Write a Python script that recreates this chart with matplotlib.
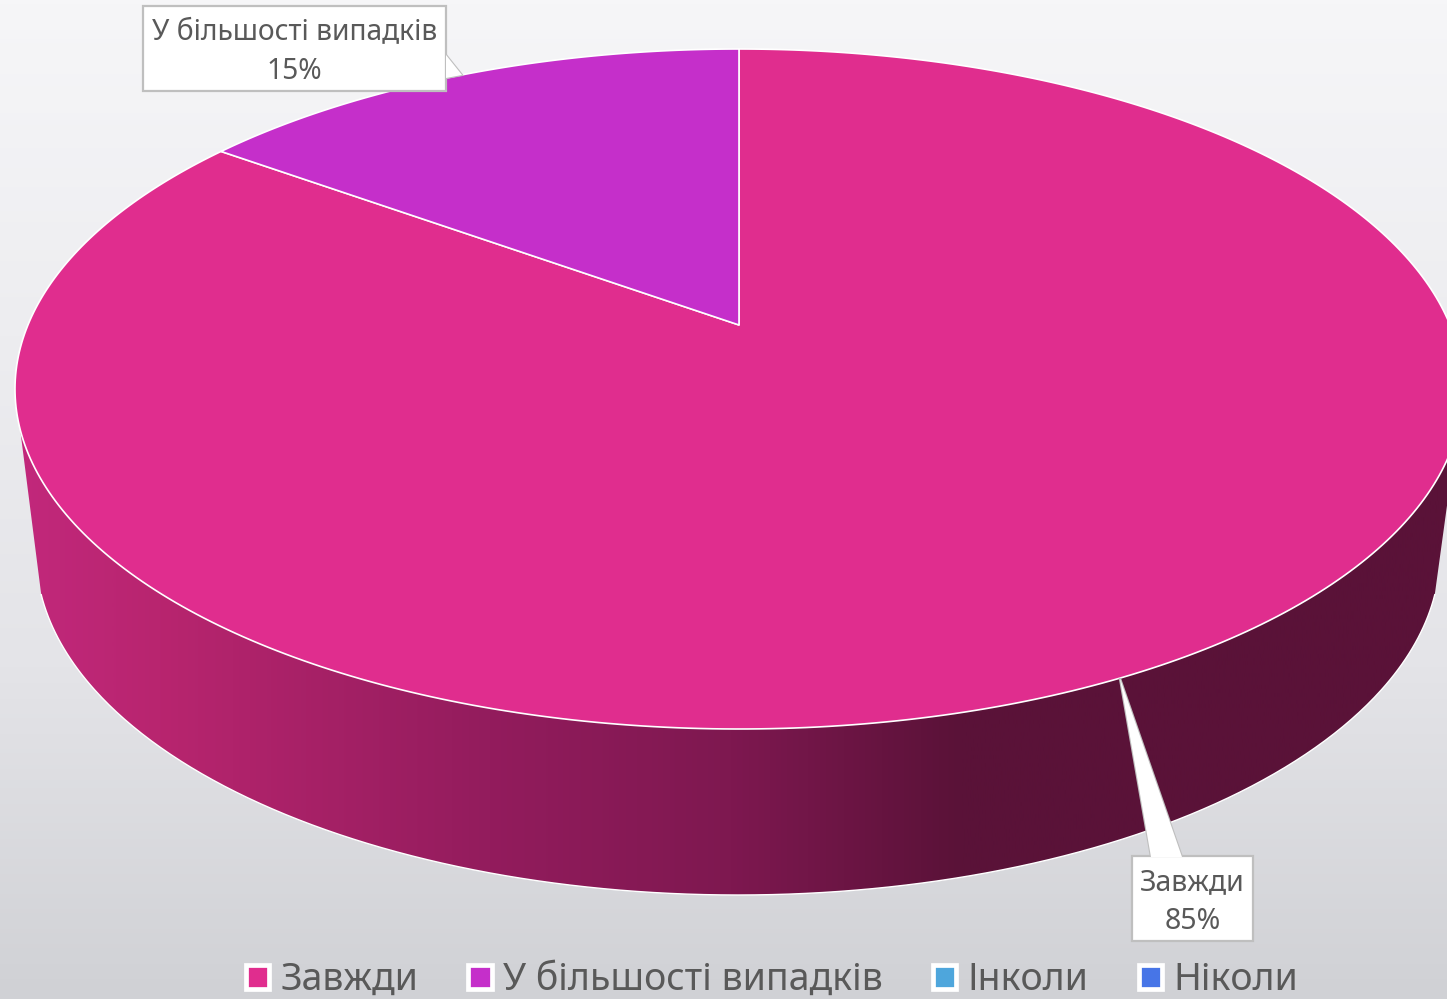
import numpy as np
import matplotlib
matplotlib.use("Agg")
import matplotlib.pyplot as plt
from matplotlib.patches import Polygon, Patch
from matplotlib.colors import LinearSegmentedColormap

categories = ["Завжди", "У більшості випадків", "Інколи", "Ніколи"]
values = [85, 15, 0, 0]
colors = ["#E02D8E", "#C52FCA", "#4EA6DC", "#4775E7"]
wall_stops = [(0.0, "#C2287C"), (0.10, "#B8256F"), (0.33, "#931C5D"),
              (0.50, "#7E1850"), (0.66, "#5A1238"), (1.0, "#5A1238")]
W, H = 1447, 999
FONT = ["Noto Sans", "DejaVu Sans"]
TEXT = "#595959"

# pie projection (pixels): ellipse rim with a perspective-shifted apex
cx, cy, rx, ry = 739.0, 389.0, 724.0, 340.0
bcx, bcy, brx, bry = 738.0, 553.0, 702.0, 342.0
P = (cy - 325.0) / ry


def rim(theta_deg):
    """theta clockwise from the top of the pie, returns pixel coordinates."""
    t = np.radians(np.atleast_1d(theta_deg))
    x, y = np.sin(t), np.cos(t)
    d = 1 + P * y
    xp = x * np.sqrt(1 - P ** 2) / d
    yp = (y + P) / d
    return cx + rx * xp, cy - ry * yp


fig = plt.figure(figsize=(W / 100, H / 100), dpi=100)
ax = fig.add_axes([0, 0, 1, 1])
ax.set_xlim(0, W)
ax.set_ylim(H, 0)
ax.axis("off")

# background
bg = LinearSegmentedColormap.from_list("bg", ["#F6F6F8", "#EDEDF0", "#E4E4E8", "#D0D1D5"])
ax.imshow(np.linspace(0, 1, 256)[:, None], cmap=bg, extent=[0, W, H, 0], aspect="auto", zorder=0)

# side wall
lower = np.linspace(97, 263, 361)
upper = np.linspace(270, 90, 361)
lo_x = bcx + brx * np.sin(np.radians(lower))
lo_y = bcy - bry * np.cos(np.radians(lower))
up_x = cx + rx * np.sin(np.radians(upper))
up_y = cy - ry * np.cos(np.radians(upper))
wall_xy = np.column_stack([np.r_[lo_x, up_x], np.r_[lo_y, up_y]])
wall_clip = Polygon(wall_xy, closed=True, transform=ax.transData, fc="none", ec="none")
ax.add_patch(wall_clip)
wall_cmap = LinearSegmentedColormap.from_list("wall", wall_stops)
g = ax.imshow(np.linspace(0, 1, 512)[None, :], cmap=wall_cmap, extent=[15, 1447, H, 0],
              aspect="auto", zorder=1)
g.set_clip_path(wall_clip)
ax.plot(lo_x, lo_y, color="white", lw=1.0, zorder=2)

# top face wedges: first slice starts at the top and runs clockwise
cum = np.cumsum([0] + values) / sum(values) * 360
apex = (cx, cy - P * ry)
for i, v in enumerate(values):
    if v == 0:
        continue
    th = np.linspace(cum[i], cum[i + 1], 400)
    ex, ey = rim(th)
    poly = np.column_stack([np.r_[apex[0], ex], np.r_[apex[1], ey]])
    ax.add_patch(Polygon(poly, closed=True, fc=colors[i], ec="white", lw=1.2, zorder=3,
                         joinstyle="round"))


def callout(box, tip, base, lines, size):
    x0, y0, x1, y1 = box
    ax.add_patch(Polygon([tip, base[0], base[1]], closed=True, fc="white", ec="#BFBFBF", lw=1.6, zorder=4))
    ax.add_patch(Polygon([(x0, y0), (x1, y0), (x1, y1), (x0, y1)], closed=True, fc="white",
                         ec="#BFBFBF", lw=1.6, zorder=5))
    ax.add_patch(Polygon([tip, base[0], base[1]], closed=True, fc="white", ec="none", zorder=6))
    ax.text((x0 + x1) / 2, (y0 + y1) / 2 + 4, "\n".join(lines), ha="center", va="center", color=TEXT,
            fontsize=size, family=FONT, linespacing=1.45, zorder=7)


# callouts: leaders aimed at the slice mid-angles
mid0 = (cum[0] + cum[1]) / 2
t0 = rim(mid0)
callout((1132, 856, 1253, 941), (float(t0[0][0]) - 7, float(t0[1][0]) + 2), ((1151, 857), (1182, 857)),
        [categories[0], f"{values[0]}%"], 20.5)
callout((143, 6, 446, 91), (462, 75), ((446, 55), (446, 78)),
        [categories[1], f"{values[1]}%"], 20.3)

handles = [Patch(fc=c, ec="white", lw=3.4) for c in colors]
leg = ax.legend(handles, categories, loc="lower center", bbox_to_anchor=(772 / W, 0.0), ncol=4,
                frameon=False, prop={"family": FONT, "size": 27}, labelcolor=TEXT,
                handlelength=0.62, handleheight=0.62, handletextpad=0.3, columnspacing=1.34,
                borderpad=0, borderaxespad=0)
leg.set_zorder(8)
fig.savefig("out.png", dpi=100)
